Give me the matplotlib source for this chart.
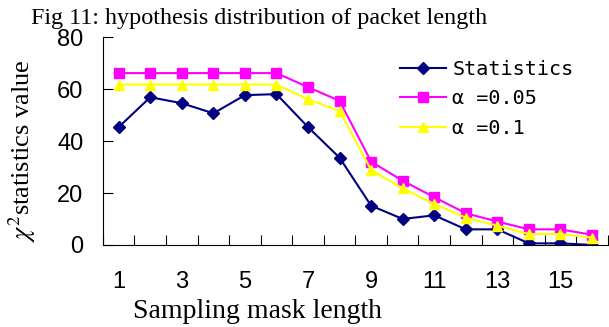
import numpy as np
import matplotlib.pyplot as plt

plt.rcParams["mathtext.fontset"] = "stix"

mask_length = np.arange(1, 17)
statistics = [45.4, 56.9, 54.6, 50.7, 57.7, 58.1, 45.4, 33.6,
              15.1, 10.0, 11.4, 6.0, 6.0, 0.6, 0.6, 0.0]
alpha_005 = [66.2, 66.2, 66.2, 66.2, 66.2, 66.2, 60.8, 55.5,
             32.1, 24.7, 18.4, 12.2, 9.0, 6.0, 6.0, 3.9]
alpha_01 = [61.8, 61.8, 61.8, 61.8, 61.8, 61.8, 56.1, 51.6,
            28.9, 21.8, 15.8, 10.5, 7.4, 4.2, 4.2, 2.8]
x_labels = ["1", "3", "5", "7", "9", "11", "13", "15"]

sans = ["Liberation Sans Narrow", "Liberation Sans", "DejaVu Sans"]
serif = ["Liberation Serif", "DejaVu Serif"]

fig = plt.figure(figsize=(6.09, 3.27), dpi=100)
ax = fig.add_axes([0.169, 0.251, 0.829, 0.635])

ax.plot(mask_length, statistics, color="#000080", marker="D", markersize=6,
        linewidth=1.5, label="Statistics")
ax.plot(mask_length, alpha_005, color="#FF00FF", marker="s", markersize=7.5,
        linewidth=1.5, label="α =0.05")
ax.plot(mask_length, alpha_01, color="#FFFF00", marker="^", markersize=7.5,
        linewidth=1.5, label="α =0.1")

ax.set_xlim(0.5, 16.5)
ax.set_ylim(0, 80)
ax.spines["top"].set_visible(False)
ax.spines["right"].set_visible(False)

# category boundaries get the tick marks, odd categories get labels
ax.set_xticks(np.arange(0.5, 17, 1))
ax.set_xticklabels([])
ax.set_xticks(np.arange(1, 17, 2), minor=True)
ax.set_xticklabels(x_labels, minor=True, family=sans, fontsize=17)
ax.tick_params(axis="x", which="major", direction="in", length=7)
ax.tick_params(axis="x", which="minor", length=0, pad=19)

ax.set_yticks([0, 20, 40, 60, 80])
ax.set_yticklabels(["0", "20", "40", "60", "80"], family=sans, fontsize=17)
ax.tick_params(axis="y", direction="in", length=7, pad=14)

leg = ax.legend(loc="upper left", bbox_to_anchor=(382 / 609, 1 - 41.5 / 327),
                bbox_transform=fig.transFigure, frameon=False,
                prop={"family": "DejaVu Sans Mono", "size": 14.5},
                handlelength=2.3, handletextpad=0.3, labelspacing=0.52)

fig.text(0.426, 0.944, "Fig 11: hypothesis distribution of packet length",
         ha="center", va="center", family=serif, fontsize=17.4)
fig.text(0.423, 0.047, "Sampling mask length",
         ha="center", va="center", family=serif, fontsize=20)
fig.text(0.036, 0.538, r"$\chi^2$statistics value", rotation=90,
         ha="center", va="center", family=serif, fontsize=19)

fig.savefig("out.png", dpi=100)
